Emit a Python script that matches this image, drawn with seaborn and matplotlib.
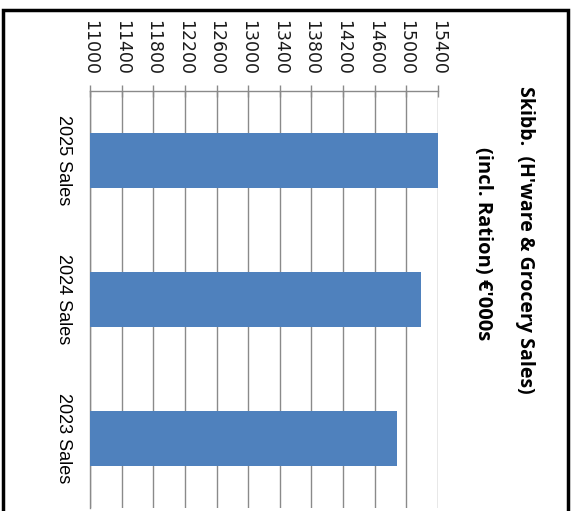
import matplotlib
matplotlib.use("Agg")
import matplotlib.pyplot as plt
import seaborn as sns
import pandas as pd
from matplotlib.patches import Rectangle

# Sales figures (€'000s)
categories = ["2025 Sales", "2024 Sales", "2023 Sales"]
sales = [15400, 15185, 14880]
value_ticks = [11000, 11400, 11800, 12200, 12600, 13000, 13400, 13800, 14200, 14600, 15000, 15400]
title_line1 = "Skibb.  (H'ware & Grocery Sales)"
title_line2 = "(incl. Ration) €'000s"

sns.set_theme(style="white")
plt.rcParams["font.family"] = ["DejaVu Sans"]

df = pd.DataFrame({"category": categories, "sales": sales})

fig = plt.figure(figsize=(5.78, 5.11), dpi=100)
fig.patch.set_facecolor("white")
ax = fig.add_axes([90 / 578, 1 - 508 / 511, 348 / 578, 417 / 511])

sns.barplot(data=df, x="sales", y="category", orient="h", color="#4F81BD",
            saturation=1, width=0.39, ax=ax, zorder=3, edgecolor="none")

grid_c = "#8a8a8a"
ax.set_xlim(value_ticks[0], value_ticks[-1])
ax.set_ylim(2.5, -0.5)
ax.set_xticks(value_ticks)
ax.xaxis.tick_top()
ax.set_xticklabels([str(v) for v in value_ticks], rotation=-90,
                   fontsize=12.5, color="#1a1a1a")
ax.tick_params(axis="x", direction="inout", length=8, width=1, color=grid_c, pad=7.5)
ax.grid(axis="x", color=grid_c, lw=1, zorder=0)
ax.grid(axis="y", visible=False)

ax.set_yticks([0, 1, 2])
ax.set_yticklabels(categories, rotation=-90, va="center",
                   fontsize=13, family="Liberation Sans", color="black")
ax.set_yticks([-0.5, 0.5, 1.5, 2.5], minor=True)
ax.tick_params(axis="y", which="major", length=0, pad=13)
ax.tick_params(axis="y", which="minor", direction="out", length=5, width=1, color=grid_c)

ax.set_xlabel("")
ax.set_ylabel("")
for side in ["right", "bottom"]:
    ax.spines[side].set_visible(False)
for side in ["top", "left"]:
    ax.spines[side].set_color(grid_c)
    ax.spines[side].set_linewidth(1)

# Rotated chart title
fig.text(525 / 578, 1 - 240 / 511, title_line1, rotation=-90, ha="center", va="center",
         fontsize=14, fontweight="bold", family="Open Sans", color="black")
fig.text(483 / 578, 1 - 244 / 511, title_line2, rotation=-90, ha="center", va="center",
         fontsize=14.5, fontweight="bold", family="Open Sans", color="black")

# Outer frame
fig.add_artist(Rectangle((2.5 / 578, -0.05), 565 / 578, 1.05 - 10.5 / 511,
                         transform=fig.transFigure, fill=False,
                         edgecolor="black", lw=2.5))

fig.savefig("out.png", dpi=100)
